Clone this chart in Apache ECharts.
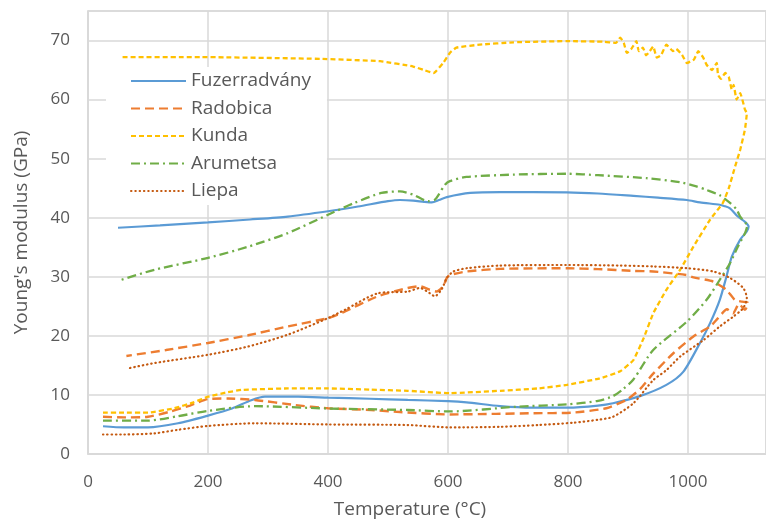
<!DOCTYPE html>
<html><head><meta charset="utf-8">
<script src="https://cdn.jsdelivr.net/npm/echarts@6/dist/echarts.min.js"></script>
<style>html,body{margin:0;padding:0;background:#fff}#c{width:766px;height:525px}</style>
</head><body><div id="c"></div>
<script>
const seriesNames = ['Fuzerradvány','Radobica','Kunda','Arumetsa','Liepa'];
const xTicks = [0,200,400,600,800,1000];
const yTicks = [0,10,20,30,40,50,60,70];

const fuzerradvany = [[25,4.7],[60,4.5],[100,4.5],[150,5.2],[200,6.5],[240,7.7],[272,9.1],[295,9.7],[350,9.7],[400,9.55],[470,9.35],[533,9.15],[600,8.95],[631,8.75],[687,8.1],[742,7.85],[800,7.85],[850,8.2],[875,8.6],[920,9.8],[964,11.7],[992,13.9],[1020,18.8],[1037,22.2],[1053,26.1],[1064,30],[1073,33.4],[1087,36.3],[1098,37.7],
 [1101,38.5],[1095,39.3],[1083,40.2],[1070,41.6],[1060,42],[1053,42.2],[1020,42.6],[998,43.0],[950,43.4],[909,43.7],[850,44.1],[798,44.3],[687,44.35],[637,44.2],[598,43.5],[585,43.0],[573,42.6],[560,42.7],[542,42.9],[520,43.0],[500,42.8],[450,41.9],[400,41.1],[333,40.2],[270,39.7],[200,39.2],[120,38.7],[50,38.3]];

const radobica = [[25,6.3],[60,6.2],[100,6.3],[138,7.2],[170,8.2],[200,9.3],[233,9.4],[278,9.15],[344,8.3],[400,7.75],[472,7.45],[520,7.1],[603,6.7],[680,6.8],[742,6.9],[808,7.0],[864,7.75],[898,9.2],[920,11],[942,13.6],[976,17.1],[1009,19.9],[1037,21.6],[1050,23.0],[1065,24.5],[1075,23.8],[1085,25.4],[1095,24.4],[1100,25.6],
 [1090,25.8],[1078,26.1],[1064,27.8],[1042,29.2],[1009,29.9],[998,30.3],[942,30.9],[909,31.0],[850,31.3],[798,31.45],[687,31.35],[631,30.9],[603,30.3],[598,29.8],[592,28.4],[581,27.5],[570,27.8],[553,28.4],[533,28.1],[483,26.7],[422,23.85],[400,23.0],[333,21.6],[267,20.1],[200,18.8],[130,17.6],[64,16.6]];

const kunda = [[25,7.0],[60,7.0],[100,7.0],[144,7.75],[175,8.7],[200,9.7],[230,10.4],[256,10.85],[333,11.1],[400,11.1],[470,10.9],[533,10.7],[603,10.3],[687,10.7],[750,11.1],[798,11.7],[853,12.8],[887,14.0],[909,15.9],[926,19.6],[942,23.8],[964,27.8],[987,31.2],[1009,35.1],[1037,39.7],[1058,42.5],[1068,45],[1078,48.5],[1087,51.5],[1095,55],
 [1098,57.7],[1095,58.3],[1087,61.1],[1081,60.0],[1076,62.5],[1073,61.7],[1068,63.8],[1062,64.5],[1055,63.5],[1050,64.2],[1048,66.2],[1040,65.0],[1031,65.9],[1025,67.2],[1017,68.2],[1010,66.8],[998,66.2],[990,67.6],[980,68.6],[975,68.2],[964,69.3],[955,67.5],[948,67.1],[942,69.0],[935,68.0],[930,67.5],[925,68.8],[918,68.2],[914,69.9],[905,68.5],[898,67.9],[893,69.6],[887,70.5],[880,69.6],[860,69.8],[798,69.9],[709,69.7],[653,69.3],[614,68.8],[603,67.9],[592,66.2],[576,64.5],[560,65.0],[542,65.6],[487,66.5],[387,66.9],[187,67.2],[53,67.2]];

const arumetsa = [[25,5.65],[100,5.65],[150,6.4],[200,7.3],[278,8.1],[400,7.7],[533,7.45],[603,7.2],[714,8.0],[798,8.4],[850,9.0],[875,9.8],[892,11.0],[909,12.6],[942,17.6],[998,22.4],[1031,26.1],[1053,29.5],[1070,32.3],[1083,35.1],[1095,37.4],[1099,38.8],
 [1098,38.9],[1087,40.2],[1081,41.4],[1070,42.5],[1053,43.8],[1031,44.7],[1014,45.3],[987,46.0],[931,46.7],[850,47.2],[798,47.45],[709,47.3],[631,46.9],[603,46.2],[595,45.6],[585,44.0],[578,43.05],[567,42.8],[542,43.9],[520,44.45],[489,44.2],[444,42.5],[400,40.5],[333,37.4],[267,35.1],[200,33.2],[111,31.2],[50,29.3]];

const liepa = [[25,3.3],[60,3.3],[111,3.5],[150,4.1],[200,4.75],[278,5.2],[400,5.0],[533,4.9],[603,4.5],[687,4.6],[750,4.9],[809,5.3],[850,5.8],[875,6.3],[909,8.6],[942,12.5],[964,14.2],[987,16.5],[1026,19.3],[1053,21.6],[1076,23.3],[1092,24.7],[1098,26.4],
 [1092,28.1],[1070,29.8],[1042,30.9],[998,31.45],[942,31.75],[887,31.9],[798,32.0],[687,31.9],[631,31.45],[609,30.9],[598,29.8],[590,28.0],[578,26.7],[570,27.2],[553,28.1],[533,27.5],[483,27.2],[428,24.4],[400,23.0],[333,20.2],[267,18.2],[200,16.8],[111,15.4],[67,14.5]];

const dataList = [fuzerradvany, radobica, kunda, arumetsa, liepa];
const colors = ['#5B9BD5','#ED7D31','#FFC000','#70AD47','#C55A11'];
const dashes = ['solid',[9,5],[5,3],[9,4,2,4],[0.5,3.8]];
const caps = ['butt','butt','butt','butt','round'];
const widths = [2.2,2.4,2.3,2.3,2.2];
const smooths = [0.25,0.2,0.12,0.25,0.25];

const chart = echarts.init(document.getElementById('c'), null, {renderer:'canvas'});
const txt = '#595959', gridC = '#D9D9D9';
chart.setOption({
  animation:false,
  backgroundColor:'#fff',
  grid:{left:88,right:0,top:11,bottom:71,show:true,borderColor:gridC,borderWidth:1.5},
  legend:{
    orient:'vertical', left:106, top:67, backgroundColor:'#fff',
    padding:[4,16,4,24], itemWidth:55, itemHeight:14, itemGap:7.5,
    itemStyle:{opacity:0},
    textStyle:{color:txt,fontSize:19,fontFamily:'Open Sans',lineHeight:20},
    data:seriesNames
  },
  xAxis:{
    type:'value', min:0, max:1130, interval:200,
    name:'Temperature (°C)', nameLocation:'middle', nameGap:46,
    nameTextStyle:{color:txt,fontSize:19,fontFamily:'Open Sans',padding:[0,34,0,0]},
    axisLine:{show:true,lineStyle:{color:gridC,width:1.5}},
    axisTick:{show:false},
    axisLabel:{color:txt,fontSize:17,fontFamily:'Open Sans',margin:20,showMaxLabel:false,
      formatter:v=>xTicks.includes(v)?String(v):''},
    splitLine:{show:true,lineStyle:{color:gridC,width:1.5}}
  },
  yAxis:{
    type:'value', min:0, max:75, interval:10,
    name:"Young's modulus (GPa)", nameLocation:'middle', nameGap:57, nameRotate:90,
    nameTextStyle:{color:txt,fontSize:19,fontFamily:'Open Sans'},
    axisLine:{show:true,lineStyle:{color:gridC,width:1.5}},
    axisTick:{show:false},
    axisLabel:{color:txt,fontSize:17,fontFamily:'Open Sans',margin:18,showMaxLabel:false,
      formatter:v=>yTicks.includes(v)?String(v):''},
    splitLine:{show:true,lineStyle:{color:gridC,width:1.5}}
  },
  series: seriesNames.map((n,i)=>({
    name:n, type:'line', data:dataList[i], symbol:'none', smooth:smooths[i],
    color:colors[i],
    lineStyle:{color:colors[i],width:widths[i],type:dashes[i],cap:caps[i]}
  }))
});
</script></body></html>
